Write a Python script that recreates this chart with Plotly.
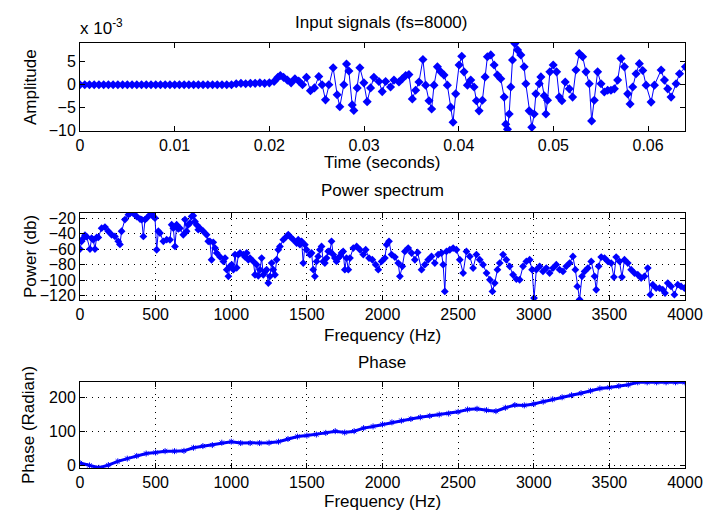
import plotly.graph_objects as go

# ---------------- data ----------------
# Input signal (time in s, amplitude in units of 1e-3)
flat_t = [i * 0.0005 for i in range(40)]
flat_amp = [0.0] * 33 + [0.2, 0.3, 0.2, 0.3, 0.3, 0.4, 0.3]

sig_t = [0.0200, 0.0205, 0.0209, 0.02116, 0.0215, 0.0219, 0.0223, 0.0227, 0.0231, 0.0235,
         0.02392, 0.02434, 0.02476, 0.02522, 0.02557, 0.02593, 0.02628, 0.02674, 0.02716, 0.02744,
         0.02787, 0.02815, 0.0284, 0.02875, 0.02892, 0.02928, 0.02956, 0.02998, 0.03033, 0.03069,
         0.03104, 0.03157, 0.03192, 0.03228, 0.0328, 0.03316, 0.03369, 0.03404, 0.0344, 0.03474,
         0.0351, 0.03545, 0.0358, 0.03622, 0.03651, 0.03686, 0.03714, 0.03739, 0.03775, 0.0381,
         0.03845, 0.0388, 0.03915, 0.0394, 0.03968, 0.04004, 0.04032, 0.04056, 0.04092, 0.04127,
         0.04162, 0.04187, 0.04215, 0.0425, 0.04279, 0.04303, 0.04339, 0.04374, 0.04409, 0.04444,
         0.0448, 0.04497, 0.04515, 0.04533, 0.0455, 0.04568, 0.04593, 0.04621, 0.04656, 0.04691,
         0.04709, 0.04744, 0.04772, 0.04797, 0.04815, 0.0485, 0.04868, 0.04903, 0.04921, 0.04938,
         0.04963, 0.04998, 0.05034, 0.05062, 0.0509, 0.05125, 0.05168, 0.05203, 0.05238, 0.05273,
         0.05309, 0.05344, 0.05379, 0.05404, 0.05432, 0.05467, 0.05503, 0.05538, 0.05573, 0.05608,
         0.05644, 0.05679, 0.05714, 0.0575, 0.05785, 0.0581, 0.05838, 0.05873, 0.05908, 0.05944,
         0.05979, 0.06032, 0.06067, 0.06138, 0.06173, 0.06208, 0.06243, 0.06296, 0.06332, 0.06395]
sig_amp = [0.4, 0.7, 1.6, 2.0, 1.6, 1.0, 0.4, 1.3, 0.8, 0.0,
           1.6, -1.3, -0.7, 1.8, 0.0, -3.3, 0.0, 3.7, -2.2, -4.8,
           0.0, 4.5, 3.0, -4.4, -5.6, -0.7, 3.7, 0.4, -3.7, -0.7,
           1.6, 0.7, -1.5, 0.7, -0.5, 1.0, 0.6, 1.3, 2.0, 2.2,
           -3.1, -1.2, 0.6, 5.5, -0.1, -3.5, -5.3, -0.1, 3.9, 2.8,
           2.1, -0.1, -4.9, -8.2, -2.0, 4.3, 6.2, 2.8, -0.1, 1.0,
           -0.5, -3.5, -5.7, -3.4, 1.7, 6.1, 6.5, 4.3, 2.1, 1.3,
           -2.7, -8.6, -9.7, -6.4, -0.5, 5.4, 9.0, 7.6, 6.5, 3.9,
           0.2, -5.7, -9.3, -6.4, -2.0, 0.2, 1.7, -2.4, -6.4, -3.4,
           2.8, 4.3, 2.8, -2.7, -3.5, 0.6, -0.9, -2.7, 3.2, 6.8,
           6.1, 2.8, 0.2, -7.9, -3.4, 2.8, 0.2, -1.6, -1.2, -1.2,
           -0.9, 1.0, 5.7, 3.9, -2.0, -4.2, -0.5, 2.4, 4.6, 3.1,
           -0.1, -3.8, -0.1, 3.2, 1.0, -0.9, -2.7, 0.2, 2.4, 3.9]

# Power spectrum (Hz, dB)
spec_f = [0, 11, 22, 33, 44, 66, 77, 88, 99, 110, 121, 143, 165, 187, 209, 231, 253, 264, 275, 297,
          320, 331, 352, 375, 397, 408, 419, 430, 441, 463, 474, 485, 496, 507, 518, 529, 551, 573, 595, 606,
          617, 628, 639, 650, 661, 683, 694, 705, 716, 727, 738, 749, 760, 771, 782, 793, 815, 837, 848, 859,
          870, 881, 893, 904, 926, 948, 959, 970, 981, 992, 1003, 1014, 1025, 1036, 1047, 1058, 1080, 1091, 1102, 1113,
          1124, 1146, 1157, 1168, 1179, 1190, 1201, 1212, 1223, 1234, 1245, 1256, 1267, 1278, 1289, 1300, 1311, 1322, 1344, 1366,
          1377, 1388, 1410, 1432, 1443, 1454, 1465, 1476, 1487, 1498, 1520, 1531, 1542, 1553, 1564, 1575, 1586, 1597, 1608, 1619,
          1630, 1641, 1652, 1663, 1674, 1685, 1696, 1707, 1718, 1729, 1740, 1751, 1762, 1774, 1785, 1807, 1829, 1851, 1873, 1889,
          1911, 1933, 1955, 1972, 1994, 2016, 2027, 2043, 2060, 2082, 2104, 2115, 2131, 2148, 2170, 2192, 2214, 2232, 2258, 2280,
          2302, 2324, 2346, 2368, 2390, 2401, 2412, 2423, 2445, 2467, 2489, 2511, 2533, 2555, 2577, 2599, 2621, 2643, 2665, 2688,
          2710, 2727, 2742, 2760, 2775, 2797, 2819, 2841, 2863, 2885, 2907, 2929, 2951, 2973, 2989, 3002, 3017, 3039, 3061, 3083,
          3105, 3127, 3149, 3171, 3193, 3215, 3237, 3259, 3275, 3288, 3303, 3319, 3336, 3358, 3380, 3402, 3413, 3429, 3446, 3468,
          3490, 3512, 3530, 3545, 3567, 3583, 3600, 3622, 3644, 3666, 3688, 3710, 3732, 3754, 3771, 3787, 3809, 3831, 3853, 3868,
          3886, 3908, 3930, 3952, 3974, 3996]
spec_db = [-60, -50, -46, -42, -44, -60, -46, -48, -60, -45, -45, -33, -31.6, -37, -41.5, -43.6, -50, -54, -37, -22,
           -15.7, -13.8, -13.8, -18, -21.3, -22, -43.6, -22, -20, -15.7, -13.8, -18, -20, -60.8, -37, -39.3, -50, -47.9, -48, -28.6,
           -33, -56.5, -28.6, -34, -33, -41.5, -22, -37, -28.6, -26.4, -17.9, -17, -24.3, -28.6, -35, -33, -37, -41.5, -50, -50,
           -73.7, -51.3, -58.6, -65, -70, -75.8, -71.5, -86.5, -95, -82, -80, -86.5, -67, -84, -67, -65, -67, -70, -65, -73.7,
           -71.5, -75.8, -93, -80, -94.3, -86.5, -71.5, -93, -88.7, -86.5, -103.7, -95, -78, -86.5, -93, -73.7, -60.8, -56.5, -47.9, -43.6,
           -41.5, -43.6, -47.9, -52.2, -47.9, -54.3, -50, -78, -54.3, -60.8, -67.2, -65, -86.5, -95, -75.8, -69.4, -60.8, -56.5, -75.8, -78,
           -71.5, -62.9, -63, -50, -67, -71.5, -75.8, -71.5, -69.4, -65, -63, -86.5, -71.5, -86.5, -71.5, -58.6, -56.5, -60.8, -67, -60.8,
           -71.5, -73.7, -80, -86.5, -75.8, -71.5, -54.3, -50, -67, -70.2, -78, -95, -82.2, -63, -58.6, -65, -73.7, -64.2, -86.5, -80,
           -73.7, -69.4, -78, -67, -65, -80, -114.4, -63, -60.8, -58.6, -60.8, -73.7, -90.8, -63, -69.4, -84.4, -67, -73.7, -80, -90.8,
           -99.4, -114.4, -103.7, -86.5, -78, -67, -73.7, -82.2, -93, -98.5, -99.4, -82.2, -75.8, -73.7, -86.5, -123, -86.5, -82.2, -88.7, -84.4,
           -90.8, -84.4, -80, -86.5, -88.7, -82.2, -78, -69.4, -86.5, -108, -125, -95, -88.7, -84.4, -75.8, -95, -112.3, -82.2, -70.2, -71.5,
           -75.8, -78, -96, -70.2, -75.8, -96, -73.7, -78, -86.5, -90.8, -93, -97.3, -95, -84.4, -118.7, -105.8, -110.1, -110.1, -112.3, -116.6,
           -103.7, -108, -118.7, -105.8, -108, -110.1]

# Phase (Hz, radian)
phase_f = [0, 62.5, 125, 187.5, 250, 312.5, 375, 437.5, 500, 562.5, 625, 687.5, 750, 812.5, 875, 937.5,
           1000, 1062.5, 1125, 1187.5, 1250, 1312.5, 1375, 1437.5, 1500, 1562.5, 1625, 1687.5, 1750, 1812.5, 1875, 1937.5,
           2000, 2062.5, 2125, 2187.5, 2250, 2312.5, 2375, 2437.5, 2500, 2562.5, 2625, 2687.5, 2750, 2812.5, 2875, 2937.5,
           3000, 3062.5, 3125, 3187.5, 3250, 3312.5, 3375, 3437.5, 3500, 3562.5, 3625, 3687.5, 3750, 3812.5, 3875, 3937.5, 4000]
phase_rad = [7, 0, -7, 1, 12, 20, 28, 35, 38, 42, 42, 43, 52, 57, 60, 67,
             70, 66, 66, 66, 67, 70, 78, 85, 88, 91, 96, 101, 97, 101, 110, 115,
             121, 127, 132, 137, 142, 146, 150, 153, 158, 165, 167, 163, 160, 170, 178, 177,
             181, 188, 195, 201, 207, 213, 220, 227, 230, 234, 238, 245, 245, 245, 245, 245, 245]

# ---------------- figure ----------------
W, H = 705, 515
BLUE = "#0000FF"
FONT = "Liberation Sans"
FS = 17
TFS = 16


def px_x(x):
    return x / W


def px_y(y):
    return 1 - y / H


fig = go.Figure()
fig.add_trace(go.Scatter(x=flat_t + sig_t, y=flat_amp + sig_amp, mode="lines+markers",
                         line=dict(color=BLUE, width=1),
                         marker=dict(symbol="diamond", size=7, color=BLUE),
                         xaxis="x", yaxis="y", showlegend=False))
fig.add_trace(go.Scatter(x=spec_f, y=spec_db, mode="lines+markers",
                         line=dict(color=BLUE, width=1),
                         marker=dict(symbol="diamond", size=6, color=BLUE),
                         xaxis="x2", yaxis="y2", showlegend=False))
fig.add_trace(go.Scatter(x=phase_f, y=phase_rad, mode="lines+markers",
                         line=dict(color=BLUE, width=3),
                         marker=dict(symbol="asterisk-open", size=5, color=BLUE,
                                     line=dict(color=BLUE, width=1)),
                         xaxis="x3", yaxis="y3", showlegend=False))

common = dict(showline=True, linecolor="black", linewidth=1, mirror="ticks",
              ticks="inside", ticklen=5, tickcolor="black", zeroline=False,
              automargin=False,
              tickfont=dict(family=FONT, size=TFS, color="black"))
grid = dict(showgrid=True, gridcolor="black", griddash="1px,5px", gridwidth=1)

xdom = [px_x(80), px_x(685)]
fig.update_layout(
    width=W, height=H, margin=dict(l=0, r=0, t=0, b=0),
    paper_bgcolor="white", plot_bgcolor="white",
    xaxis=dict(domain=xdom, range=[0, 0.0639], tickvals=[0, 0.01, 0.02, 0.03, 0.04, 0.05, 0.06],
               ticktext=["0", "0.01", "0.02", "0.03", "0.04", "0.05", "0.06"],
               showgrid=False, anchor="y", **common),
    yaxis=dict(domain=[px_y(131), px_y(43)], range=[-10.1, 9.1], tickvals=[-10, -5, 0, 5],
               showgrid=False, anchor="x", **common),
    xaxis2=dict(domain=xdom, range=[0, 4000], tickvals=list(range(0, 4001, 500)),
                anchor="y2", **grid, **common),
    yaxis2=dict(domain=[px_y(300), px_y(213)], range=[-125.5, -13.5], tickvals=[-120, -100, -80, -60, -40, -20],
                anchor="x2", **grid, **common),
    xaxis3=dict(domain=xdom, range=[0, 4000], tickvals=list(range(0, 4001, 500)),
                anchor="y3", **grid, **common),
    yaxis3=dict(domain=[px_y(468), px_y(382)], range=[-7.6, 246], tickvals=[0, 100, 200],
                anchor="x3", **grid, **common),
)


def ann(text, x, y, angle=0, xanchor="center"):
    fig.add_annotation(text=text, x=px_x(x), y=px_y(y), xref="paper", yref="paper",
                       showarrow=False, textangle=angle, xanchor=xanchor, yanchor="middle",
                       font=dict(family=FONT, size=FS, color="black"))


ann("Input signals (fs=8000)", 381, 22)
ann("Time (seconds)", 382, 162)
ann("Power spectrum", 382, 190)
ann("Frequency (Hz)", 382, 335)
ann("Phase", 382, 362)
ann("Frequency (Hz)", 382, 501)
ann("Amplitude", 30, 87, angle=-90)
ann("Power (db)", 30, 257, angle=-90)
ann("Phase (Radian)", 28, 425, angle=-90)
ann("x 10<sup>-3</sup>", 78, 27, xanchor="left")

fig.write_html("out.html", config={"displayModeBar": False},
               post_script="document.body.style.margin='0';document.body.style.overflow='hidden';")
